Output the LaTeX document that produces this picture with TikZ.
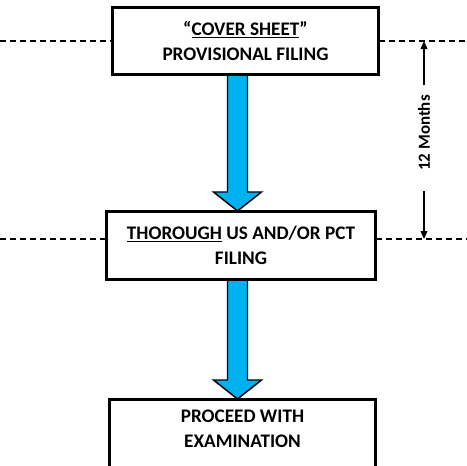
\documentclass[tikz,border=0pt]{standalone}
\usepackage{fontspec}
\setmainfont{Carlito}
\usetikzlibrary{arrows.meta, calc, positioning}
\definecolor{arrowblue}{RGB}{0,176,240}

\tikzset{
  stepbox/.style={draw, line width=1.5pt, fill=white, align=center, inner sep=3pt,
    font=\bfseries\fontsize{14.4}{18.8}\selectfont},
  guide/.style={line width=1.1pt, dash pattern=on 4.5pt off 3pt},
  blockarrow/.style={fill=arrowblue, draw=black, line width=1.1pt, line join=miter},
  span/.style={line width=1.1pt, -{Triangle[length=6pt, width=5pt]}},
}

\begin{document}
\begin{tikzpicture}[x=0.75pt, y=-0.75pt]
    \clip (0,0) rectangle (467,465);

    % Filing steps
    \coordinate (ax) at (237.5,0);
    \node[stepbox, minimum width=198.75pt, minimum height=49.5pt] (cover) at (245.5,41)
        {“\underline{COVER SHEET}”\\PROVISIONAL FILING};
    \node[stepbox, minimum width=201pt, minimum height=50.25pt] (filing) at (241,245.5)
        {\underline{THOROUGH} US AND/OR PCT\\FILING};
    \node[stepbox, anchor=north, minimum width=198.75pt, inner ysep=7.5pt, text depth=60pt] (exam) at (242.5,399)
        {PROCEED WITH\\EXAMINATION};

    % Block arrows between the steps
    \foreach \a/\b in {cover/filing, filing/exam} {
        \draw[blockarrow] ($(\a.south -| ax)+(-10,0)$) -- ($(\b.north -| ax)+(-10,-19)$)
            -- ($(\b.north -| ax)+(-24,-19)$) -- (\b.north -| ax)
            -- ($(\b.north -| ax)+(24,-19)$) -- ($(\b.north -| ax)+(10,-19)$)
            -- ($(\a.south -| ax)+(10,0)$) -- cycle;
    }

    % Redraw box edges over the arrow ends
    \draw[line width=1.5pt] (cover.south west) rectangle (cover.north east);
    \draw[line width=1.5pt] (filing.south west) rectangle (filing.north east);
    \draw[line width=1.5pt] (exam.south west) rectangle (exam.north east);

    % Time lines
    \coordinate (t1 left) at (0,41);
    \coordinate (t1 right) at (467,41);
    \coordinate (t2 left) at (0,239);
    \coordinate (t2 right) at (467,239);
    \draw[guide] (t1 left) -- (t1 left -| cover.west);
    \draw[guide] (t1 right -| cover.east) -- (t1 right);
    \draw[guide] (t2 left) -- (t2 left -| filing.west);
    \draw[guide] (t2 right -| filing.east) -- (t2 right);

    % Twelve month span
    \node[rotate=90, font=\bfseries\fontsize{12.7}{15}\selectfont] (months) at (424,133) {12 Months};
    \draw[span, shorten <=4pt] (months.east) -- (t1 right -| months);
    \draw[span, shorten <=12pt] (months.west) -- (t2 right -| months);
\end{tikzpicture}
\end{document}
